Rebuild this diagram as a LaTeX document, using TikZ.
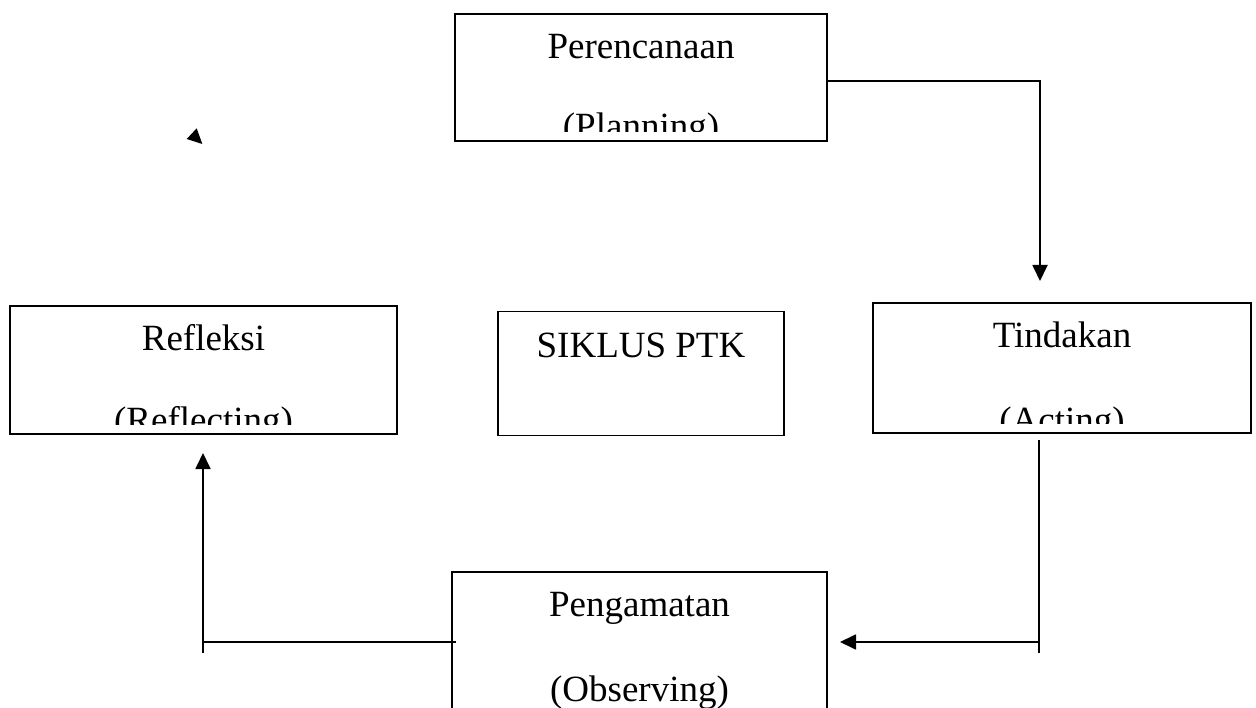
\documentclass[tikz,border=0pt]{standalone}
\usepackage{fontspec}
\setmainfont{Liberation Serif}
\usepackage{tikz}
\usetikzlibrary{arrows.meta, positioning, calc}

\begin{document}
\begin{tikzpicture}[
    x=1pt, y=-1pt,
    box/.style={draw, line width=1.7pt, inner sep=0pt},
    lbl/.style={anchor=base, inner sep=0pt, font=\fontsize{37pt}{40pt}\selectfont},
    line/.style={line width=1.8pt},
    arr/.style={-{Triangle[length=16pt, width=15pt]}, line width=1.8pt},
]
\fill[white] (0,0) rectangle (1256,708);
\useasboundingbox (0,0) rectangle (1256,708);

% boxes
\node[box, minimum width=372pt, minimum height=127pt] (plan) at (641,77.5) {};
\node[box, minimum width=378pt, minimum height=130pt] (act) at (1062,368) {};
\node[box, minimum width=387pt, minimum height=128pt] (refl) at (203.5,370) {};
\node[box, minimum width=286pt, minimum height=124pt] (siklus) at (641,373.5) {};
\draw[line width=1.7pt] (452,760) |- (827,572) -- (827,760);
\coordinate (obs) at (639.5,572);

% texts (second line cut by the box)
\node[lbl] (plantxt) at (641,59) {Perencanaan};
\begin{scope}
  \clip (plan.north west) rectangle ([yshift=10pt]plan.south east);
  \node[lbl] (planeng) at (641,139) {(Planning)};
\end{scope}
\node[lbl] (acttxt) at (1062,348) {Tindakan};
\begin{scope}
  \clip (act.north west) rectangle ([yshift=10pt]act.south east);
  \node[lbl] (acteng) at (1062,432) {(Acting)};
\end{scope}
\node[lbl] (refltxt) at (203.5,351) {Refleksi};
\begin{scope}
  \clip (refl.north west) rectangle ([yshift=10pt]refl.south east);
  \node[lbl] (refleng) at (203.5,432) {(Reflecting)};
\end{scope}
\node[lbl] (sikltxt) at (641,358) {SIKLUS PTK};
\node[lbl] (obstxt) at (639.5,616) {Pengamatan};
\node[lbl] (obseng) at (639.5,701) {(Observing)};

% connectors
\coordinate (acttip) at (1040,281);
\coordinate (actdrop) at (1039,440);
\coordinate (actfoot) at (1039,653);
\coordinate (obstip) at (840,642);
\coordinate (obsout) at (456,642);
\coordinate (reflfoot) at (203,653);
\coordinate (refltip) at (203,453);

\draw[arr] ([yshift=-3.5pt]plan.east) -| (acttip);
\draw[line] (actdrop) -- (actfoot);
\draw[arr] (actdrop |- obstip) -- (obstip);
\draw[line] (obsout) -- (reflfoot |- obsout);
\draw[arr] (reflfoot) -- (refltip);

% loose arrow head
\fill (186.7,139) -- (196.7,128.3) -- (202.3,144) -- cycle;
\end{tikzpicture}
\end{document}
